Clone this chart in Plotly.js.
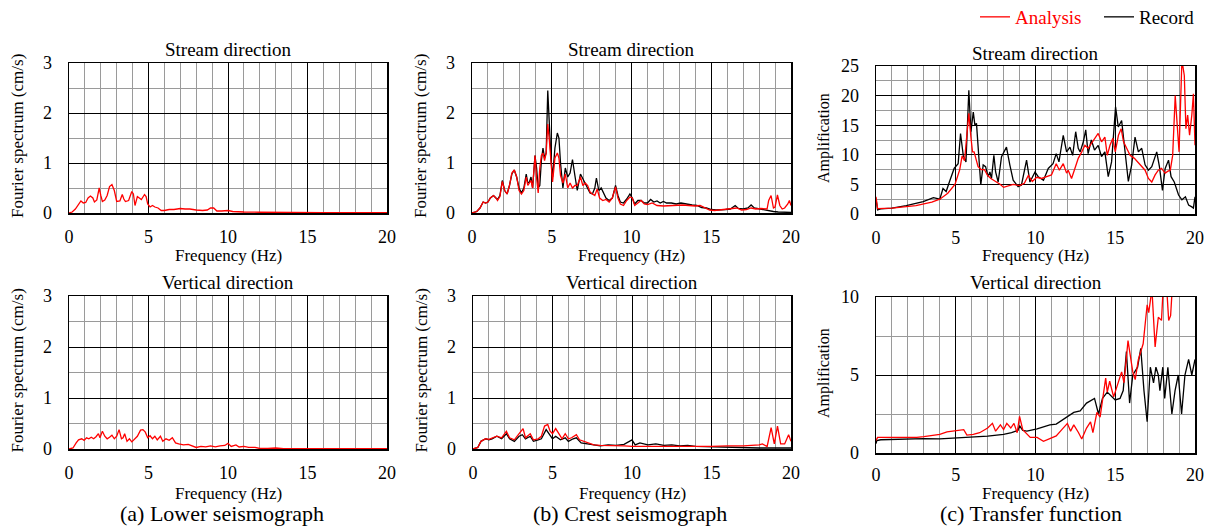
<!DOCTYPE html>
<html>
<head>
<meta charset="utf-8">
<script src="https://cdn.plot.ly/plotly-3.0.1.min.js"></script>
<style>html,body{margin:0;padding:0;background:#fff;}#chart{width:1213px;height:531px;}</style>
</head>
<body>
<div id="chart"></div>
<script>
// ---------- DATA ----------
// (a) Lower seismograph, stream direction (analysis = record, input motion)
const lowerStreamF = [0,0.2,0.4,0.6,0.75,0.9,1.05,1.2,1.35,1.5,1.6,1.75,1.9,2.0,2.1,2.25,2.4,2.55,2.7,2.85,3.0,3.2,3.35,3.45,3.55,3.75,3.95,4.05,4.15,4.3,4.45,4.55,4.75,4.85,4.95,5.1,5.25,5.4,5.6,5.8,6.0,6.3,6.6,7.0,7.3,7.6,8.0,8.4,8.7,8.9,9.1,9.3,9.6,10.0,10.3,10.6,11,12,13,14,16,18,20];
const lowerStreamV = [0,0.02,0.08,0.18,0.24,0.2,0.21,0.3,0.34,0.3,0.22,0.26,0.5,0.35,0.23,0.26,0.35,0.53,0.57,0.45,0.23,0.24,0.37,0.28,0.23,0.25,0.43,0.38,0.15,0.33,0.3,0.27,0.37,0.33,0.18,0.12,0.15,0.12,0.1,0.05,0.05,0.07,0.07,0.09,0.08,0.08,0.06,0.05,0.06,0.1,0.1,0.04,0.04,0.05,0.03,0.02,0.02,0.015,0.01,0.01,0.005,0.008,0.005];

// (a) Lower seismograph, vertical direction
const lowerVertF = [0,0.25,0.45,0.6,0.8,0.95,1.1,1.25,1.4,1.55,1.7,1.85,1.95,2.1,2.25,2.4,2.55,2.7,2.85,3.0,3.15,3.3,3.4,3.5,3.65,3.8,3.95,4.1,4.3,4.5,4.65,4.8,4.95,5.1,5.25,5.4,5.55,5.75,5.9,6.1,6.3,6.5,6.7,6.9,7.2,7.5,7.8,8.0,8.3,8.6,8.9,9.2,9.5,9.8,10.0,10.2,10.5,10.7,11.0,11.3,11.7,12.0,12.5,13,13.5,15,17,20];
const lowerVertV = [0,0.02,0.12,0.18,0.2,0.17,0.22,0.2,0.23,0.2,0.24,0.3,0.22,0.35,0.25,0.2,0.23,0.27,0.2,0.25,0.38,0.2,0.22,0.3,0.15,0.2,0.14,0.18,0.25,0.37,0.38,0.33,0.22,0.26,0.2,0.25,0.18,0.25,0.15,0.2,0.17,0.22,0.12,0.1,0.08,0.09,0.05,0.03,0.05,0.04,0.06,0.04,0.06,0.07,0.11,0.05,0.08,0.04,0.05,0.03,0.03,0.01,0.01,0.02,0.005,0.005,0.005,0.005];

// (b) Crest seismograph, stream direction
const crestStreamRecF = [0,0.3,0.5,0.7,0.85,1.0,1.15,1.35,1.5,1.6,1.75,1.9,2.05,2.2,2.35,2.5,2.65,2.8,2.95,3.1,3.25,3.4,3.5,3.6,3.7,3.8,3.95,4.05,4.15,4.25,4.35,4.45,4.55,4.65,4.75,4.85,4.95,5.05,5.2,5.35,5.45,5.55,5.7,5.85,6.0,6.15,6.3,6.45,6.6,6.8,6.95,7.1,7.25,7.4,7.55,7.7,7.8,7.95,8.1,8.25,8.4,8.6,8.8,9.0,9.15,9.3,9.5,9.7,9.9,10.05,10.2,10.4,10.6,10.8,11.0,11.2,11.4,11.6,11.8,12.0,12.2,12.5,12.8,13.1,13.4,13.8,14.1,14.4,14.7,15.0,15.3,15.6,15.9,16.2,16.5,16.7,17.0,17.3,17.5,17.7,18.0,18.3,18.6,18.9,19.2,19.6,20];
const crestStreamRecV = [0,0.03,0.1,0.22,0.2,0.22,0.3,0.35,0.3,0.27,0.35,0.65,0.45,0.38,0.55,0.78,0.86,0.72,0.5,0.4,0.5,0.78,0.6,0.62,0.72,0.5,1.15,0.9,0.5,0.55,1.05,1.3,1.1,1.2,2.45,1.6,1.1,0.72,1.3,1.6,1.5,1.0,0.5,0.9,0.72,0.8,1.07,0.75,0.45,0.78,0.68,0.6,0.5,0.4,0.38,0.5,0.7,0.45,0.5,0.4,0.3,0.25,0.3,0.55,0.35,0.22,0.2,0.28,0.38,0.3,0.18,0.25,0.25,0.2,0.2,0.27,0.22,0.24,0.2,0.23,0.2,0.2,0.18,0.2,0.18,0.16,0.15,0.11,0.1,0.07,0.06,0.06,0.07,0.08,0.15,0.09,0.08,0.1,0.16,0.1,0.08,0.07,0.05,0.03,0.02,0.01,0.01];
const crestStreamAnaF = [0,0.3,0.5,0.7,0.85,1.0,1.15,1.35,1.5,1.6,1.75,1.9,2.05,2.2,2.35,2.5,2.65,2.8,2.95,3.1,3.25,3.4,3.5,3.6,3.7,3.8,3.95,4.05,4.15,4.25,4.35,4.45,4.55,4.65,4.75,4.85,4.95,5.05,5.2,5.35,5.45,5.55,5.7,5.85,6.0,6.15,6.3,6.45,6.6,6.8,6.95,7.1,7.25,7.4,7.55,7.7,7.85,8.0,8.2,8.4,8.6,8.8,9.0,9.15,9.3,9.5,9.7,9.9,10.05,10.2,10.4,10.6,10.8,11.0,11.3,11.6,12.0,12.4,12.8,13.2,13.6,14.0,14.3,14.6,14.9,15.2,15.6,16.0,16.3,16.6,16.9,17.2,17.5,17.8,18.1,18.5,18.6,18.75,18.9,19.0,19.15,19.3,19.45,19.6,19.8,19.9,20];
const crestStreamAnaV = [0,0.03,0.1,0.22,0.2,0.22,0.3,0.35,0.3,0.25,0.33,0.63,0.45,0.38,0.55,0.8,0.86,0.72,0.45,0.38,0.45,0.72,0.55,0.6,0.65,0.5,1.15,0.7,0.4,0.9,1.15,1.2,1.05,1.2,1.78,1.45,1.0,0.62,1.1,1.2,1.1,0.75,0.6,0.78,0.5,0.6,0.5,0.55,0.55,0.72,0.55,0.6,0.55,0.42,0.38,0.35,0.48,0.3,0.25,0.27,0.22,0.3,0.52,0.3,0.18,0.15,0.25,0.32,0.3,0.15,0.2,0.25,0.18,0.17,0.2,0.15,0.14,0.15,0.15,0.16,0.15,0.14,0.15,0.1,0.06,0.05,0.06,0.07,0.08,0.1,0.06,0.07,0.1,0.08,0.09,0.08,0.25,0.35,0.1,0.12,0.36,0.15,0.08,0.1,0.18,0.25,0.15];

// (b) Crest seismograph, vertical direction
const crestVertRecF = [0,0.3,0.5,0.8,1.0,1.2,1.5,1.8,2.1,2.3,2.6,2.9,3.1,3.3,3.6,3.8,4.1,4.3,4.6,4.8,5.0,5.2,5.5,5.8,6.0,6.3,6.5,6.8,7.2,7.6,8.0,8.5,9.0,9.5,10.0,10.2,10.5,11.0,11.5,12.0,12.5,13.0,13.5,14.0,15.0,16.0,17.0,18.0,19.0,20];
const crestVertRecV = [0,0.03,0.15,0.2,0.18,0.2,0.25,0.2,0.3,0.2,0.15,0.25,0.28,0.2,0.25,0.15,0.18,0.2,0.38,0.3,0.2,0.25,0.18,0.22,0.15,0.2,0.22,0.12,0.1,0.07,0.06,0.08,0.07,0.09,0.18,0.08,0.12,0.08,0.1,0.07,0.08,0.06,0.07,0.05,0.04,0.03,0.03,0.02,0.02,0.02];
const crestVertAnaF = [0,0.3,0.5,0.8,1.0,1.2,1.5,1.8,2.1,2.3,2.6,2.9,3.15,3.3,3.6,3.8,4.1,4.3,4.5,4.7,4.85,5.0,5.2,5.4,5.6,5.8,6.0,6.2,6.5,6.7,7.0,7.3,7.6,8.0,8.5,9.0,9.5,10.0,10.5,11.0,12.0,13.0,14.0,15.0,16.0,17.0,18.0,18.2,18.5,18.75,18.95,19.15,19.35,19.6,19.85,20];
const crestVertAnaV = [0,0.03,0.15,0.2,0.19,0.22,0.25,0.22,0.35,0.22,0.18,0.3,0.4,0.22,0.3,0.18,0.2,0.25,0.45,0.48,0.35,0.3,0.4,0.3,0.2,0.3,0.2,0.22,0.28,0.18,0.15,0.12,0.08,0.07,0.07,0.06,0.06,0.05,0.05,0.04,0.04,0.04,0.04,0.05,0.06,0.06,0.08,0.1,0.05,0.42,0.1,0.45,0.1,0.1,0.28,0.15];

// (c) Transfer function, stream direction
const tfStreamRecF = [0,0.1,0.3,1.0,1.9,2.96,3.6,4.0,4.2,4.4,4.6,4.9,5.15,5.3,5.47,5.64,5.82,5.95,6.1,6.2,6.3,6.47,6.57,6.72,6.87,7.03,7.14,7.24,7.39,7.5,7.66,7.87,8.18,8.39,8.6,8.91,9.12,9.44,9.65,9.97,10.17,10.5,10.8,11.1,11.3,11.47,11.74,11.95,12.16,12.33,12.52,12.68,12.8,13.0,13.15,13.3,13.5,13.7,13.93,14.14,14.35,14.56,14.77,15.02,15.19,15.4,15.6,15.82,16.03,16.24,16.45,16.66,16.87,17.08,17.29,17.6,17.77,17.96,18.13,18.34,18.5,18.7,18.97,19.18,19.4,19.6,19.8,19.9,20];
const tfStreamRecV = [2.6,0.7,0.85,1.0,1.4,2.1,2.75,2.5,4.3,3.8,5.4,7.7,8.5,13.6,9.9,8.8,20.9,13.9,17.2,15.0,15.3,8.3,4.9,8.3,8.0,6.3,7.1,6.0,9.9,7.1,5.4,9.7,11.3,8.3,5.7,4.6,4.9,9.1,5.4,7.1,6.3,5.7,7.7,8.5,10.2,8.8,13.3,10.5,11.3,9.9,13.9,11.1,10.5,12.2,14.2,10.2,12.5,10.8,11.6,9.7,10.5,6.3,8.8,18.1,14.7,15.8,11.1,5.5,8.3,13.0,10.5,11.1,8.3,7.4,8.0,10.5,8.0,4.0,7.7,9.1,6.3,5.4,3.2,2.4,2.9,1.5,1.2,1.0,2.9];
const tfStreamAnaF = [0,0.1,1.0,2.5,3.5,4.0,4.5,4.95,5.25,5.4,5.55,5.82,5.95,6.05,6.15,6.4,6.6,6.8,7.0,7.2,7.5,7.8,8.0,8.3,8.6,9.0,9.3,9.55,9.8,10.07,10.38,10.7,11.0,11.3,11.5,11.74,11.95,12.05,12.26,12.47,12.68,12.9,13.1,13.3,13.5,13.7,13.93,14.14,14.35,14.5,14.67,14.85,15.0,15.2,15.37,15.52,15.73,15.93,16.2,16.4,16.66,16.87,17.08,17.29,17.5,17.7,17.9,18.13,18.28,18.45,18.6,18.76,18.87,19.0,19.18,19.33,19.43,19.54,19.66,19.8,19.9,20];
const tfStreamAnaV = [2.9,0.9,1.0,1.4,2.0,2.5,3.5,5.0,7.5,9.8,9.0,17.0,13.0,10.5,10.5,8.0,7.5,7.5,6.5,6.0,5.5,5.0,4.5,4.8,5.0,4.8,5.2,6.5,5.5,6.2,6.0,6.3,6.6,8.5,7.4,8.5,6.9,7.4,6.0,7.7,9.4,10.5,11.6,11.1,11.9,12.8,13.6,12.2,13.0,9.9,11.6,12.8,10.5,13.3,14.4,12.2,11.1,9.9,9.4,8.8,8.0,7.4,6.0,5.4,6.6,7.4,7.7,6.9,7.2,7.4,9.9,20.0,15.6,10.5,26.0,23.4,14.4,16.7,13.3,16.7,20.3,11.6];

// (c) Transfer function, vertical direction
const tfVertRecF = [0,0.05,0.3,1,2,3,4,5,6,7,8,8.5,8.9,9.0,9.2,9.46,10.1,10.9,11.3,12.0,12.4,12.8,13.2,13.7,13.95,14.2,14.5,15.0,15.3,15.5,15.7,15.9,16.1,16.4,16.6,16.8,17.0,17.2,17.4,17.55,17.7,17.8,17.98,18.1,18.3,18.55,18.75,18.95,19.16,19.37,19.6,19.8,20];
const tfVertRecV = [0.6,0.8,0.85,0.88,0.9,0.92,0.9,0.97,1.02,1.08,1.2,1.3,1.45,1.75,1.45,1.4,1.55,1.8,1.85,2.3,2.6,2.7,3.2,3.5,2.5,3.5,3.9,3.4,3.5,4.0,6.5,3.2,5.0,5.5,6.7,4.0,2.0,5.5,4.5,5.5,5.0,4.0,5.5,3.5,5.5,2.5,4.0,5.0,2.5,5.0,6.0,5.0,6.0];
const tfVertAnaF = [0,0.1,1,2,2.55,3,4.0,4.45,5.0,5.5,5.7,6.1,6.5,7.0,7.3,7.5,7.8,8.0,8.2,8.45,8.65,8.85,9.0,9.2,9.67,10.1,10.5,10.9,11.3,11.65,12.0,12.2,12.4,12.7,12.9,13.2,13.45,13.6,13.85,14.05,14.4,14.5,14.65,14.9,15.1,15.4,15.55,15.8,16.1,16.25,16.45,16.75,17.0,17.1,17.3,17.5,17.7,17.9,18.0,18.2,18.35,18.47,18.6,18.8,19.3,20];
const tfVertAnaV = [0.8,1.0,1.0,1.0,1.0,1.05,1.2,1.35,1.42,1.5,1.15,1.2,1.3,1.6,1.9,1.4,1.8,1.5,1.9,1.6,1.9,1.3,2.35,1.5,1.0,1.0,0.75,0.9,1.1,1.5,1.9,1.4,1.8,1.3,0.9,1.6,2.0,1.3,2.6,2.3,4.8,3.9,4.6,3.6,4.3,5.2,4.5,7.2,5.2,4.7,6.0,7.0,9.5,9.0,10.5,6.8,8.7,8.5,10.5,11.0,8.5,8.8,11.0,13.0,15.0,14.0];

const titlesTop = 'Stream direction';
const titlesBottom = 'Vertical direction';
const captions = ['(a) Lower seismograph', '(b) Crest seismograph', '(c) Transfer function'];
const seriesNames = ['Analysis', 'Record'];

// ---------- LAYOUT HELPERS ----------
const W = 1213, H = 531;
const FONT = '"Liberation Serif"';
const px = v => v / W;
const py = v => 1 - v / H;
const RED = '#ff0000', BLK = '#000000';

// plot rectangles [left, right, top, bottom] in pixels
const rects = [
  [69, 387, 63, 213],   // a stream
  [472, 791, 63, 213],  // b stream
  [876, 1195, 66, 214], // c stream
  [69, 387, 296, 449],  // a vertical
  [473, 791, 296, 449], // b vertical
  [876, 1195, 297, 453] // c vertical
];
const yCfg = [
  {range:[0,3], dtick:1, minor:0.5},
  {range:[0,3], dtick:1, minor:0.5},
  {range:[0,25], dtick:5, minor:2.5},
  {range:[0,3], dtick:1, minor:0.5},
  {range:[0,3], dtick:1, minor:0.5},
  {range:[0,10], dtick:5, minor:2.5}
];

const layout = {
  width: W, height: H,
  margin: {l:0, r:0, t:0, b:0, autoexpand:false},
  paper_bgcolor: '#fff', plot_bgcolor: '#fff',
  font: {family: FONT, color: '#000'},
  showlegend: true,
  legend: {orientation:'h', x: px(975), y: py(17), xanchor:'left', yanchor:'middle',
           font:{family:FONT, size:19, color:RED}, bgcolor:'rgba(0,0,0,0)', itemwidth:30},
  legend2: {orientation:'h', x: px(1099), y: py(17), xanchor:'left', yanchor:'middle',
           font:{family:FONT, size:19, color:BLK}, bgcolor:'rgba(0,0,0,0)', itemwidth:30},
  annotations: []
};

rects.forEach((r, i) => {
  const k = i === 0 ? '' : String(i + 1);
  layout['xaxis' + k] = {
    domain: [px(r[0]), px(r[1])], anchor: 'y' + k,
    range: [0, 20], tick0: 0, dtick: 5, ticks: '', ticklabelstandoff: i === 5 ? 5 : 7,
    tickfont: {family: FONT, size: 18, color: '#000'},
    showgrid: true, gridcolor: '#000', gridwidth: 1,
    minor: {dtick: 1, tick0: 0, showgrid: true, gridcolor: '#9a9a9a', gridwidth: 1},
    showline: true, mirror: true, linecolor: '#000', linewidth: 1.5,
    zeroline: false, fixedrange: true, automargin: false
  };
  const yc = yCfg[i];
  layout['yaxis' + k] = {
    domain: [py(r[3]), py(r[2])], anchor: 'x' + k,
    range: yc.range, tick0: 0, dtick: yc.dtick, ticks: '', ticklabelstandoff: 12,
    tickfont: {family: FONT, size: 18, color: '#000'},
    showgrid: true, gridcolor: '#000', gridwidth: 1,
    minor: {dtick: yc.minor, tick0: 0, showgrid: true, gridcolor: '#9a9a9a', gridwidth: 1},
    showline: true, mirror: true, linecolor: '#000', linewidth: 1.5,
    zeroline: false, fixedrange: true, automargin: false
  };
  const cx = (r[0] + r[1]) / 2;
  // subplot title
  layout.annotations.push({text: i < 3 ? titlesTop : titlesBottom, xref:'paper', yref:'paper',
    x: px(cx), y: py(i < 3 ? (i === 2 ? 54 : 50) : 282), xanchor:'center', yanchor:'middle',
    showarrow:false, font:{family:FONT, size:19, color:'#000'}});
  // x title
  layout.annotations.push({text: 'Frequency (Hz)', xref:'paper', yref:'paper',
    x: px(cx), y: py(i < 3 ? 256 : 493), xanchor:'center', yanchor:'middle',
    showarrow:false, font:{family:FONT, size:17, color:'#000'}});
  // y title
  const isAmp = (i === 2 || i === 5);
  layout.annotations.push({text: isAmp ? 'Amplification' : 'Fourier spectrum (cm/s)', xref:'paper', yref:'paper',
    x: px(r[0] - 52), y: py((r[2] + r[3]) / 2 - 2), xanchor:'center', yanchor:'middle', textangle: -90,
    showarrow:false, font:{family:FONT, size: isAmp ? 16 : 17, color:'#000'}});
});
[222, 630, 1031].forEach((cx, j) => {
  layout.annotations.push({text: captions[j], xref:'paper', yref:'paper',
    x: px(cx), y: py(513), xanchor:'center', yanchor:'middle',
    showarrow:false, font:{family:FONT, size:22, color:'#000'}});
});

// ---------- TRACES ----------
function tr(xs, ys, axIdx, color, name, show) {
  const k = axIdx === 0 ? '' : String(axIdx + 1);
  return {x: xs, y: ys, xaxis: 'x' + k, yaxis: 'y' + k, type: 'scatter', mode: 'lines',
    line: {color: color, width: 1.3}, name: name, showlegend: !!show,
    legend: name === seriesNames[0] ? 'legend' : 'legend2', hoverinfo: 'skip'};
}
const data = [
  tr(lowerStreamF, lowerStreamV, 0, RED, seriesNames[0], true),
  tr(crestStreamRecF, crestStreamRecV, 1, BLK, seriesNames[1], true),
  tr(crestStreamAnaF, crestStreamAnaV, 1, RED, seriesNames[0], false),
  tr(tfStreamRecF, tfStreamRecV, 2, BLK, seriesNames[1], false),
  tr(tfStreamAnaF, tfStreamAnaV, 2, RED, seriesNames[0], false),
  tr(lowerVertF, lowerVertV, 3, RED, seriesNames[0], false),
  tr(crestVertRecF, crestVertRecV, 4, BLK, seriesNames[1], false),
  tr(crestVertAnaF, crestVertAnaV, 4, RED, seriesNames[0], false),
  tr(tfVertRecF, tfVertRecV, 5, BLK, seriesNames[1], false),
  tr(tfVertAnaF, tfVertAnaV, 5, RED, seriesNames[0], false)
];

Plotly.newPlot('chart', data, layout, {displayModeBar: false, staticPlot: true});
</script>
</body>
</html>
